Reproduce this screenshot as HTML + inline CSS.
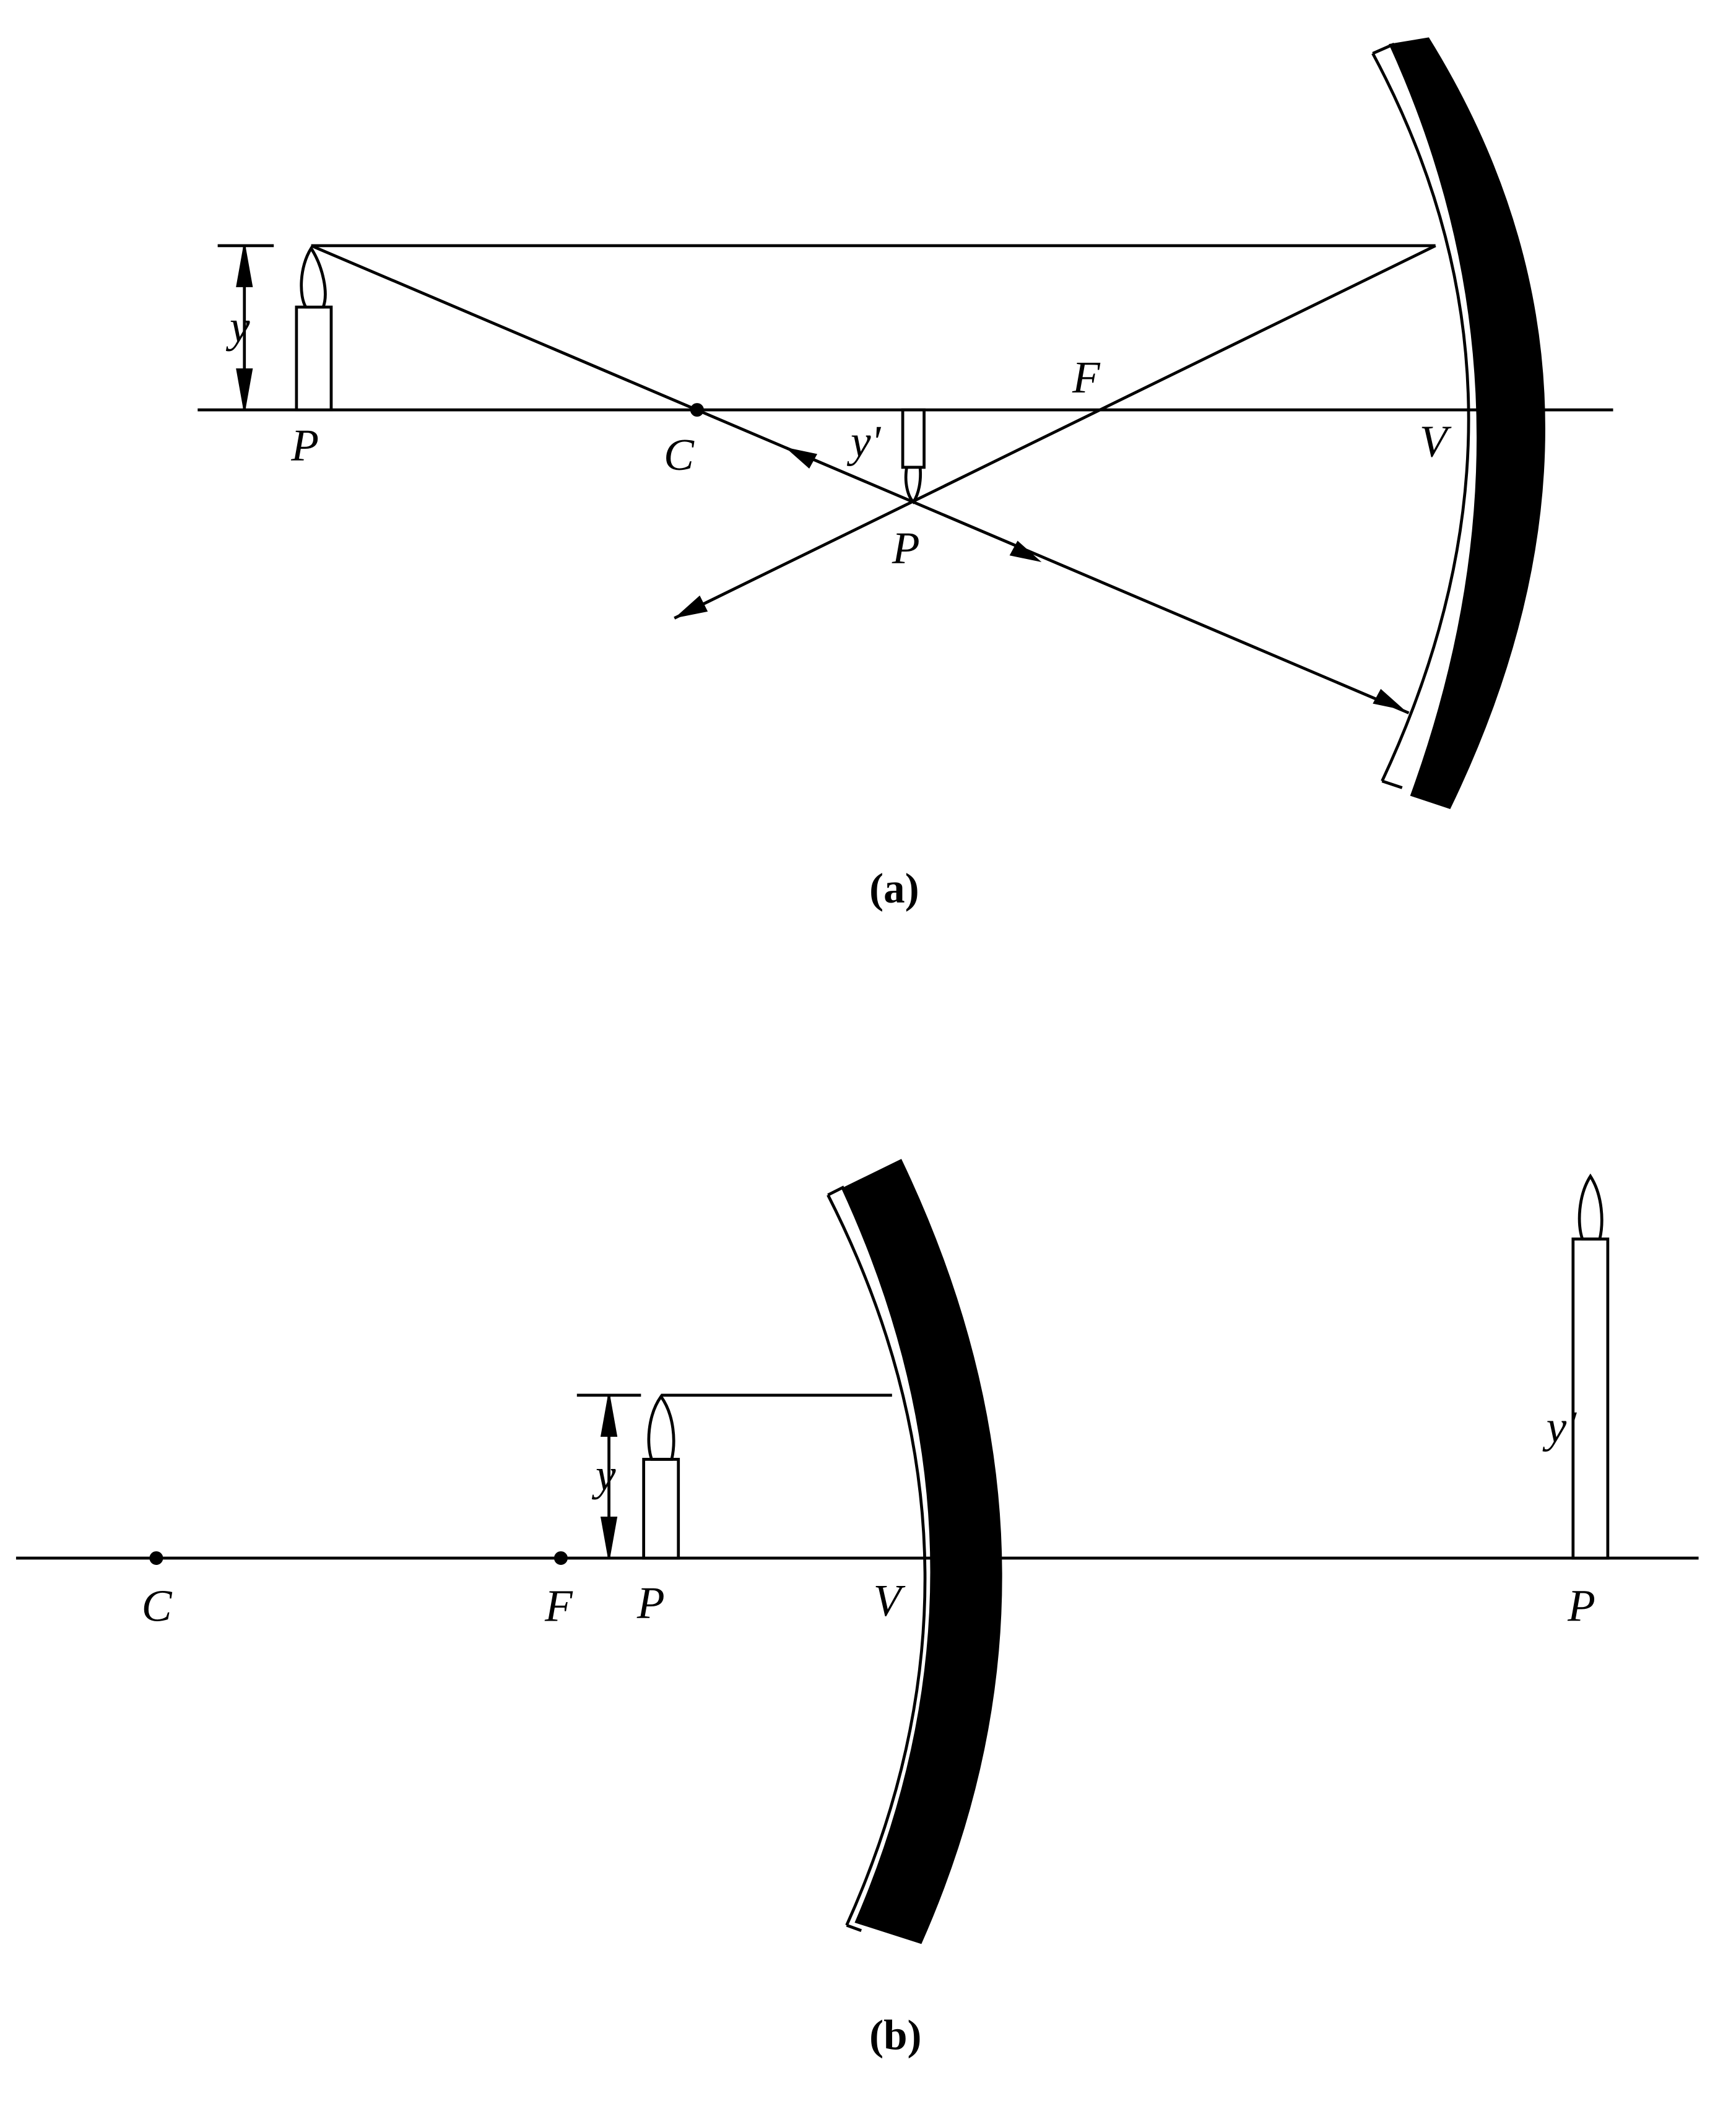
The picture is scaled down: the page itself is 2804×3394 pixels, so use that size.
<!DOCTYPE html>
<html><head><meta charset="utf-8"><style>
html,body{margin:0;padding:0;background:#fff}
svg{display:block}
text{font-family:"Liberation Serif",serif;fill:#000}
.it{font-style:italic;font-size:34px}
.cap{font-size:32px;font-weight:bold}
</style></head><body>
<svg width="2804" height="3394" viewBox="0 0 1300 1573.6" xmlns="http://www.w3.org/2000/svg">
<g stroke="#000" stroke-width="2.2" fill="none">
  <line x1="148" y1="307" x2="1208" y2="307"/>
  <line x1="233" y1="184" x2="1075" y2="184"/>
  <line x1="233" y1="184" x2="1055" y2="534"/>
  <line x1="1075" y1="184" x2="505" y2="463"/>
  <line x1="163" y1="184" x2="205" y2="184"/>
  <line x1="183" y1="184" x2="183" y2="307"/>
  <polygon fill="#000" points="183,186 178,214 188,214"/>
  <polygon fill="#000" points="183,305 178,277 188,277"/>
  <rect x="222" y="230" width="26" height="77" fill="#fff"/>
  <path d="M233,186 C224,200 224,222 229,230 L242,230 C246,220 242,200 233,186 Z" fill="#fff"/>
  <rect x="676" y="307" width="16" height="43" fill="#fff"/>
  <path d="M679,350 C677,362 680,372 684,376 C688,370 690,360 689,350 Z" fill="#fff"/>
  <polygon fill="#000" stroke="none" points="588,335 612,340 606,351"/>
  <polygon fill="#000" stroke="none" points="780,421 756,416 762,405"/>
  <polygon fill="#000" stroke="none" points="1052,532 1028,527 1034,516"/>
  <polygon fill="#000" stroke="none" points="505,463 524,446 530,458"/>
  <circle cx="522" cy="307" r="4" fill="#000"/>
  <path fill="#000" stroke="none" d="M1040,33 L1070,28 Q1236,296 1086,606 L1056,596 Q1163,302 1040,33 Z"/>
  <path d="M1028,40 Q1168,301 1035,585"/>
  <line x1="1028" y1="40" x2="1044" y2="33"/>
  <line x1="1035" y1="585" x2="1050" y2="590"/>
</g>
<g>
  <text class="it" x="218" y="345">P</text>
  <text class="it" x="497" y="352">C</text>
  <text class="it" x="803" y="294">F</text>
  <text class="it" x="1063" y="342">V</text>
  <text class="it" x="637" y="342">y'</text>
  <text class="it" x="668" y="422">P</text>
  <text class="it" x="172" y="256">y</text>
  <text class="cap" x="651" y="676">(a)</text>
</g>

<g stroke="#000" stroke-width="2.2" fill="none">
  <line x1="12" y1="1167" x2="1272" y2="1167"/>
  <circle cx="117" cy="1167" r="4" fill="#000"/>
  <circle cx="420" cy="1167" r="4" fill="#000"/>
  <line x1="432" y1="1045" x2="480" y2="1045"/>
  <line x1="456" y1="1045" x2="456" y2="1167"/>
  <polygon fill="#000" points="456,1047 451,1075 461,1075"/>
  <polygon fill="#000" points="456,1165 451,1137 461,1137"/>
  <line x1="495" y1="1045" x2="668" y2="1045"/>
  <rect x="482" y="1093" width="26" height="74" fill="#fff"/>
  <path d="M495,1046 C485,1060 484,1082 488,1093 L503,1093 C506,1080 505,1060 495,1046 Z" fill="#fff"/>
  <rect x="1178" y="928" width="26" height="239" fill="#fff"/>
  <path d="M1191,881 C1182,895 1181,917 1185,928 L1198,928 C1201,915 1200,895 1191,881 Z" fill="#fff"/>
  <path fill="#000" stroke="none" d="M630,890 L675,868 Q818,1167 690,1456 L640,1440 Q758,1167 630,890 Z"/>
  <path d="M620,895 Q758,1167 634,1442"/>
  <line x1="620" y1="895" x2="632" y2="889"/>
  <line x1="634" y1="1442" x2="645" y2="1446"/>
</g>
<g>
  <text class="it" x="106" y="1214">C</text>
  <text class="it" x="408" y="1214">F</text>
  <text class="it" x="477" y="1212">P</text>
  <text class="it" x="654" y="1210">V</text>
  <text class="it" x="1174" y="1214">P</text>
  <text class="it" x="1158" y="1080">y'</text>
  <text class="it" x="446" y="1116">y</text>
  <text class="cap" x="651" y="1535">(b)</text>
</g>
</svg>
</body></html>
